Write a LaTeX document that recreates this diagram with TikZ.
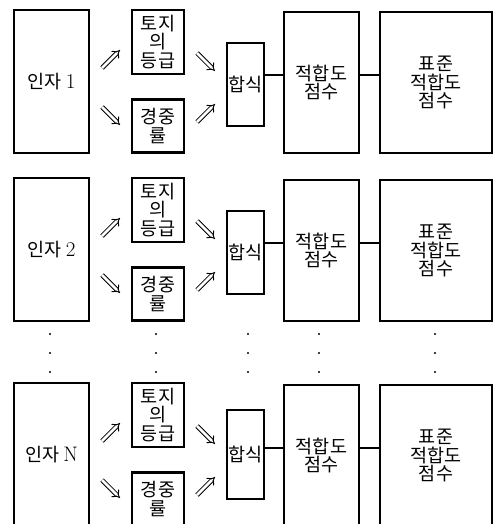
\documentclass[tikz,border=0pt]{standalone}
\usepackage{fontspec}
\newfontfamily\kr{Noto Sans CJK KR}
\usetikzlibrary{arrows.meta,calc}
\tikzset{
  box/.style={draw, line width=2.2pt, inner sep=0pt, align=center, font=\kr\fontsize{18.5}{18.5}\selectfont},
  link/.style={line width=2.2pt},
  dbl/.style={double, double distance=2.8pt, line width=0.9pt, -{Implies}},
  dotmark/.style={fill=black}
}
\begin{document}
\begin{tikzpicture}[x=1pt,y=-1pt]
\useasboundingbox (0,0) rectangle (495,524);
\foreach \r/\oy/\lab/\sy in {1/0/1/0, 2/168/2/0, 3/373/N/-6}{
  \node[box, minimum width=75pt, minimum height=143pt] (f\r) at (51.5,81.5+\oy) {인자\ {\rmfamily\fontsize{21}{19}\selectfont\lab}};
  \node[box, minimum width=52pt, minimum height=64pt] (g\r) at (158,42+\oy) {토지\\의\\등급};
  \node[box, minimum width=52pt, minimum height=53pt] (w\r) at (158,126+\oy) {경중\\[1pt]률};
  \node[box, minimum width=37pt, minimum height=83pt-\sy pt] (s\r) at (245.5,84.5+\oy+\sy/2) {합식};
  \node[box, minimum width=75pt, minimum height=141pt] (p\r) at (321.5,82.5+\oy) {적합도\\점수};
  \node[box, minimum width=112pt, minimum height=141pt] (q\r) at (436,82.5+\oy) {표준\\적합도\\점수};
  \draw[link] (s\r.east |- 0,75+\oy) -- (p\r.west |- 0,75+\oy);
  \draw[link] (p\r.east |- 0,75+\oy) -- (q\r.west |- 0,75+\oy);
  \coordinate (a\r) at (102,68+\oy);  \coordinate (b\r) at (120,50+\oy);
  \coordinate (c\r) at (102,107+\oy); \coordinate (d\r) at (120,125+\oy);
  \coordinate (e\r) at (197,53+\oy);  \coordinate (h\r) at (215,71+\oy);
  \coordinate (i\r) at (197,122+\oy); \coordinate (j\r) at (215,104+\oy);
  \draw[dbl] (a\r) -- (b\r);
  \draw[dbl] (c\r) -- (d\r);
  \draw[dbl] (e\r) -- (h\r);
  \draw[dbl] (i\r) -- (j\r);
}
\foreach \x in {50,156,248,319,435}{
  \foreach \y in {334,353,372}{
    \fill[dotmark] (\x,\y) circle (1.1pt);
  }
}
\end{tikzpicture}
\end{document}
